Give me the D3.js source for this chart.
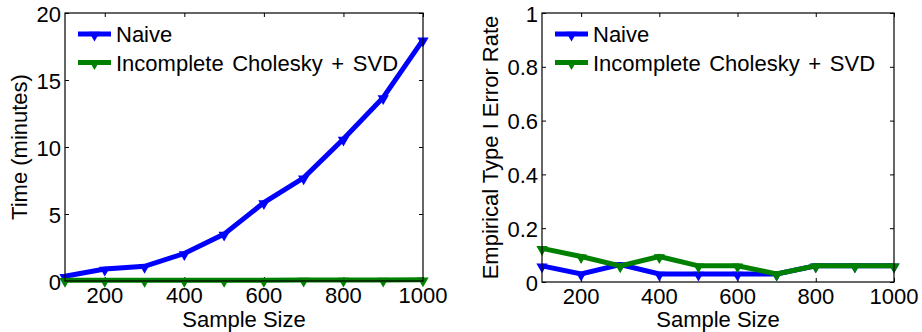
<!DOCTYPE html>
<html>
<head>
<meta charset="utf-8">
<script src="https://cdn.jsdelivr.net/npm/d3@7"></script>
<style>
  html, body { margin: 0; padding: 0; background: #fff; }
  svg { display: block; font-family: "Liberation Sans", Arial, Helvetica, sans-serif; }
</style>
</head>
<body>
<svg id="chart" width="922" height="332"></svg>
<script>
// Sample sizes used on both panels
const sampleSizes = [100, 200, 300, 400, 500, 600, 700, 800, 900, 1000];

// Run time in minutes
const timeNaive = [0.35, 0.9, 1.1, 2.05, 3.5, 5.85, 7.7, 10.6, 13.7, 18.0];
const timeCholesky = [0.05, 0.05, 0.05, 0.05, 0.06, 0.06, 0.07, 0.07, 0.08, 0.09];

// Empirical type I error rate
const errNaive = [0.06, 0.03, 0.065, 0.03, 0.03, 0.03, 0.03, 0.06, 0.06, 0.06];
const errCholesky = [0.125, 0.095, 0.06, 0.095, 0.06, 0.06, 0.03, 0.06, 0.06, 0.06];

const seriesNames = ["Naive", "Incomplete Cholesky + SVD"];
const seriesColors = ["#0000ff", "#008000"];

const xTicks = [200, 400, 600, 800, 1000];
const timeTicks = [0, 5, 10, 15, 20];
const errTicks = [0, 0.2, 0.4, 0.6, 0.8, 1];

const svg = d3.select("#chart");
const FONT = 22;
const TICK = 4;

function panel(opts) {
  const { left, right, top, bottom, yDomain, yTicks, yFormat, series, yLabel, yLabelX } = opts;
  const x = d3.scaleLinear().domain([100, 1000]).range([left, right]);
  const y = d3.scaleLinear().domain(yDomain).range([bottom, top]);
  const g = svg.append("g");

  // inward ticks on all four sides
  const axes = [
    { ax: d3.axisBottom(x).tickValues(xTicks).tickSize(-TICK).tickFormat(""), t: `translate(0,${bottom})` },
    { ax: d3.axisTop(x).tickValues(xTicks).tickSize(-TICK).tickFormat(""), t: `translate(0,${top})` },
    { ax: d3.axisLeft(y).tickValues(yTicks).tickSize(-TICK).tickFormat(""), t: `translate(${left},0)` },
    { ax: d3.axisRight(y).tickValues(yTicks).tickSize(-TICK).tickFormat(""), t: `translate(${right},0)` }
  ];
  axes.forEach(a => {
    const ag = g.append("g").attr("transform", a.t).call(a.ax);
    ag.select(".domain").remove();
    ag.selectAll("line").attr("stroke", "#000").attr("stroke-width", 1);
  });

  // data lines with downward-triangle markers
  const line = d3.line().x((d, i) => x(sampleSizes[i])).y(d => y(d));
  const tri = d3.symbol().type(d3.symbolTriangle).size(55);
  series.forEach((vals, k) => {
    g.append("path").datum(vals)
      .attr("d", line)
      .attr("fill", "none")
      .attr("stroke", seriesColors[k])
      .attr("stroke-width", 5)
      .attr("stroke-linejoin", "miter");
    g.selectAll(null).data(vals).join("path")
      .attr("d", tri)
      .attr("transform", (d, i) => `translate(${x(sampleSizes[i])},${y(d) + 1}) rotate(180)`)
      .attr("fill", seriesColors[k]);
  });

  // box
  g.append("rect")
    .attr("x", left).attr("y", top)
    .attr("width", right - left).attr("height", bottom - top)
    .attr("fill", "none").attr("stroke", "#000").attr("stroke-width", 1.2);

  // tick labels
  g.selectAll(null).data(xTicks).join("text")
    .attr("x", d => x(d)).attr("y", bottom + 22)
    .attr("text-anchor", "middle").attr("font-size", FONT)
    .text(d => d);
  g.selectAll(null).data(yTicks).join("text")
    .attr("x", left - 4).attr("y", d => y(d) + 8.5)
    .attr("text-anchor", "end").attr("font-size", FONT)
    .text(yFormat);

  // axis titles
  g.append("text")
    .attr("x", (left + right) / 2).attr("y", 327)
    .attr("text-anchor", "middle").attr("font-size", FONT)
    .text("Sample Size");
  g.append("text")
    .attr("transform", `translate(${yLabelX},${(top + bottom) / 2}) rotate(-90)`)
    .attr("text-anchor", "middle").attr("font-size", FONT)
    .text(yLabel);

  // legend
  seriesNames.forEach((name, k) => {
    const ly = top + 21 + k * 28.5;
    const lx = left + 13;
    g.append("line")
      .attr("x1", lx).attr("x2", lx + 33).attr("y1", ly).attr("y2", ly)
      .attr("stroke", seriesColors[k]).attr("stroke-width", 5);
    g.append("path")
      .attr("d", tri)
      .attr("transform", `translate(${lx + 16.5},${ly + 1}) rotate(180)`)
      .attr("fill", seriesColors[k]);
    g.append("text")
      .attr("x", lx + 38).attr("y", ly + 8)
      .attr("font-size", FONT)
      .attr("word-spacing", 2.5)
      .text(name);
  });
}

panel({
  left: 65, right: 423, top: 13, bottom: 281,
  yDomain: [0, 20], yTicks: timeTicks, yFormat: d => d,
  series: [timeNaive, timeCholesky],
  yLabel: "Time (minutes)", yLabelX: 27
});

panel({
  left: 542, right: 894, top: 13, bottom: 282,
  yDomain: [0, 1], yTicks: errTicks, yFormat: d => d === 0 || d === 1 ? d : d3.format(".1f")(d),
  series: [errNaive, errCholesky],
  yLabel: "Empirical Type I Error Rate", yLabelX: 498
});
</script>
</body>
</html>
